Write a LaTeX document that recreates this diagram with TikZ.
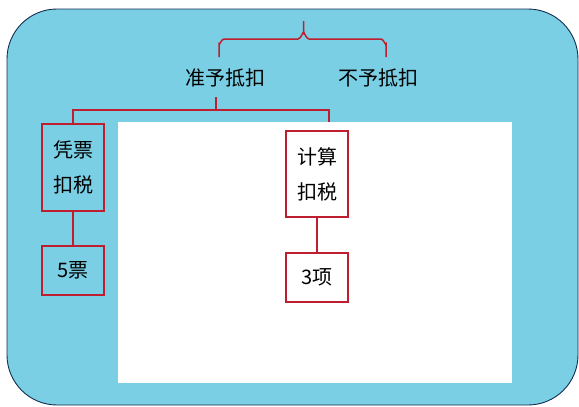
\documentclass[tikz,border=0pt]{standalone}
\usepackage{fontspec}
\setmainfont{Noto Sans CJK SC}
\definecolor{bgblue}{RGB}{122,207,228}
\definecolor{navyline}{RGB}{20,45,80}
\definecolor{redline}{RGB}{190,30,45}
\tikzset{
  lbl/.style={font=\fontsize{20}{24}\selectfont, inner sep=0pt},
  rbox/.style={draw=redline, line width=1.5pt, inner sep=0pt, align=center,
    minimum width=62pt, font=\fontsize{20}{35}\selectfont},
  conn/.style={draw=redline, line width=1.5pt}
}
\begin{document}
\begin{tikzpicture}[x=1pt,y=-1pt]
\useasboundingbox (0,0) rectangle (579,407);
\draw[fill=bgblue, draw=navyline, line width=0.9pt, rounded corners=50pt] (7,9) rectangle (578,405);
\fill[white] (118,122) rectangle (512,383);
% top labels
\node[lbl] (zhun) at (225,78) {准予抵扣};
\node[lbl] (buyu) at (378,78) {不予抵扣};
% brace
\coordinate (btop) at (303.5,21);
\coordinate (bl) at (219,57);
\coordinate (br) at (386,57);
\draw[conn] (bl) -- (219,44) to[out=-90,in=180] (224,39) -- (298,39) to[out=0,in=90] (303.5,33) -- (btop);
\draw[conn] (303.5,33) to[out=90,in=180] (309,39) -- (381,39) to[out=0,in=-90] (386,44) -- (br);
% boxes
\node[rbox, minimum height=87pt] (pz) at (73,167.5) {凭票\\扣税};
\node[rbox, minimum height=49pt] (wp) at (73,270.5) {5票};
\node[rbox, minimum height=86pt] (js) at (317,174) {计算\\扣税};
\node[rbox, minimum height=49pt] (sx) at (317,277.5) {3项};
% connectors
\coordinate (zd) at (216,97);
\coordinate (jsin) at (329,121.5);
\draw[conn] (zd) -- (216,110);
\draw[conn] (pz.north) -- (73,110) -- (329,110) -- (jsin);
\draw[conn] (pz) -- (wp);
\draw[conn] (js) -- (sx);
\end{tikzpicture}
\end{document}
